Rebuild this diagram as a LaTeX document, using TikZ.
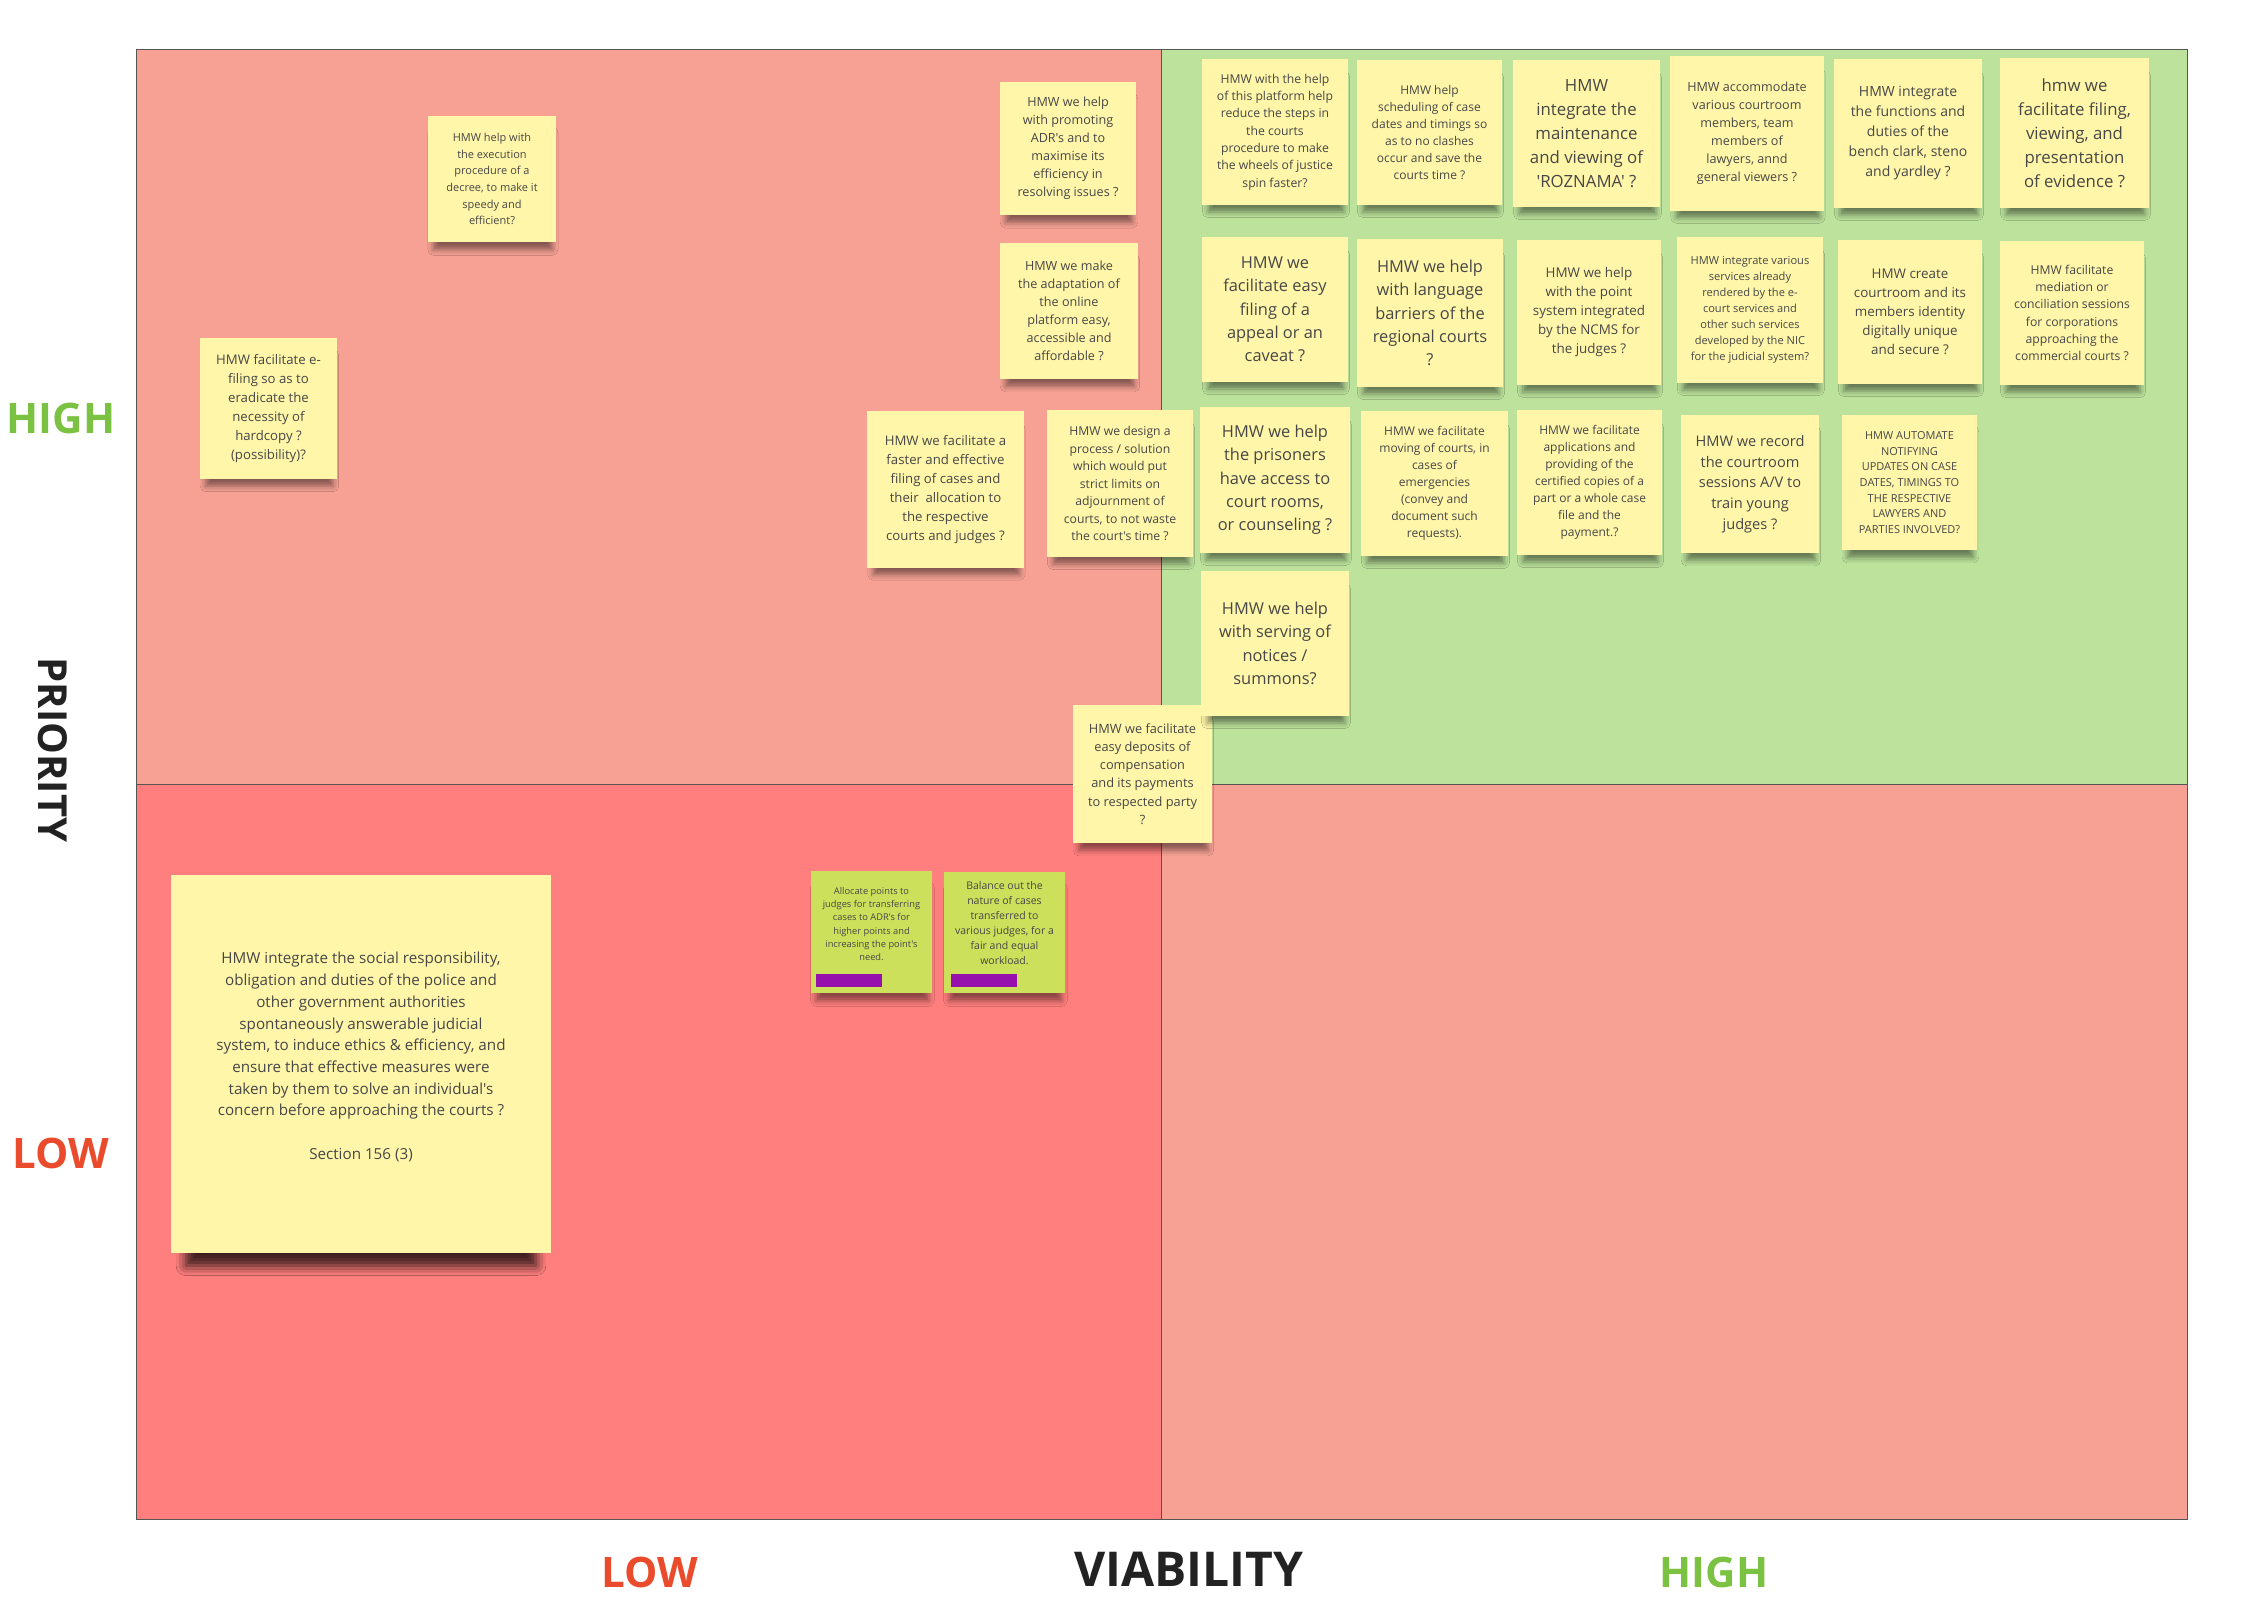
\documentclass[tikz,border=0pt]{standalone}
\usepackage{fontspec}
\setmainfont{Open Sans}[Ligatures=TeXOff]
\usetikzlibrary{shadows.blur}
\definecolor{qsalmon}{HTML}{F6A194}
\definecolor{qgreen}{HTML}{BCE29B}
\definecolor{qred}{HTML}{FF7F7E}
\definecolor{noteyellow}{HTML}{FFF6A9}
\definecolor{notegreen}{HTML}{CCE05B}
\definecolor{barpurple}{HTML}{9510AC}
\definecolor{notetext}{HTML}{474747}
\definecolor{lblgreen}{HTML}{7CC242}
\definecolor{lblred}{HTML}{EA4B2C}
\definecolor{lbldark}{HTML}{222222}
\definecolor{gridline}{HTML}{555555}
\newcommand{\fs}[2]{\fontsize{#1}{#2}\selectfont}
\tikzset{
  note/.style={rectangle, fill=noteyellow, text=notetext, align=center, inner sep=0pt,
    blur shadow={shadow xshift=1pt, shadow yshift=-13pt, shadow scale=0.93, shadow opacity=45, shadow blur radius=6pt}},
  gnote/.style={note, fill=notegreen},
  ntext/.style={align=center, text=notetext, inner sep=0pt},
  purplebar/.style={rectangle, fill=barpurple, inner sep=0pt, minimum width=66pt, minimum height=13pt},
  axislbl/.style={inner sep=0pt, font=\bfseries\fs{42}{50}},
  gridstroke/.style={draw=gridline, line width=1pt},
}
\begin{document}
\begin{tikzpicture}[x=1pt, y=-1pt]
\useasboundingbox (0,0) rectangle (2268,1614);
\fill[white] (0,0) rectangle (2268,1614);
% quadrants
\fill[qsalmon] (136,49) rectangle (1161,784);
\fill[qgreen] (1161,49) rectangle (2187,784);
\fill[qred] (136,784) rectangle (1161,1519);
\fill[qsalmon] (1161,784) rectangle (2187,1519);
\draw[gridstroke] (136,49) rectangle (2187,1519);
\draw[gridstroke] (1161,49) -- (1161,1519);
\draw[gridstroke] (136,784) -- (2187,784);
% axis labels
\node[axislbl, text=lblgreen] (highy) at (61,418) {HIGH};
\node[axislbl, text=lblred] (lowy) at (61,1153) {LOW};
\node[axislbl, text=lbldark, font=\bfseries\fs{40}{48}, rotate=-90] (prio) at (53,750) {PRIORITY};
\node[axislbl, text=lblred] (lowx) at (650,1572) {LOW};
\node[axislbl, text=lbldark, font=\bfseries\fs{48}{56}] (viab) at (1189,1569) {VIABILITY};
\node[axislbl, text=lblgreen] (highx) at (1714,1572) {HIGH};
% left / middle notes
\node[note, minimum width=128pt, minimum height=126pt, font=\fs{11}{16.7}] (n1) at (492,179)
  {HMW help with\\the execution\\procedure of a\\decree, to make it\\speedy and\\efficient?};
\node[note, minimum width=137pt, minimum height=141pt, font=\fs{13.2}{19}] (n2) at (268.5,408.5)
  {HMW facilitate e-\\filing so as to\\eradicate the\\necessity of\\hardcopy ?\\(possibility)?};
\node[note, minimum width=136pt, minimum height=133pt, font=\fs{12.6}{18}] (n3) at (1068,148.5)
  {HMW we help\\with promoting\\ADR's and to\\maximise its\\efficiency in\\resolving issues ?};
\node[note, minimum width=138pt, minimum height=136pt, font=\fs{12.6}{18}] (n4) at (1069,311)
  {HMW we make\\the adaptation of\\the online\\platform easy,\\accessible and\\affordable ?};
\node[note, minimum width=157pt, minimum height=157pt, font=\fs{13.2}{19}] (n5) at (945.5,489.5)
  {HMW we facilitate a\\faster and effective\\filing of cases and\\their\ \ allocation to\\the respective\\courts and judges ?};
\node[note, minimum width=146pt, minimum height=147pt, font=\fs{12.2}{17.5}] (n6) at (1120,483.5)
  {HMW we design a\\process / solution\\which would put\\strict limits on\\adjournment of\\courts, to not waste\\the court's time ?};
\node[note, minimum width=139pt, minimum height=138pt, font=\fs{12.8}{18.3}] (n7) at (1142.5,774)
  {HMW we facilitate\\easy deposits of\\compensation\\and its payments\\to respected party\\?};
% green notes
\node[gnote, minimum width=121pt, minimum height=122pt] (ga) at (871.5,932) {};
\node[ntext, font=\fs{9.3}{13.3}] (ga-text) at (871.5,924)
  {Allocate points to\\judges for transferring\\cases to ADR's for\\higher points and\\increasing the point's\\need.};
\node[purplebar] (ga-bar) at (849,980.5) {};
\node[gnote, minimum width=121pt, minimum height=121pt] (gb) at (1004.5,932.5) {};
\node[ntext, font=\fs{10.5}{15}] (gb-text) at (1004.5,923)
  {Balance out the\\nature of cases\\transferred to\\various judges, for a\\fair and equal\\workload.};
\node[purplebar] (gb-bar) at (984,980.5) {};
% green quadrant, row 1
\node[note, minimum width=146pt, minimum height=146pt, font=\fs{12.2}{17.3}] (n9) at (1275,132)
  {HMW with the help\\of this platform help\\reduce the steps in\\the courts\\procedure to make\\the wheels of justice\\spin faster?};
\node[note, minimum width=145pt, minimum height=145pt, font=\fs{12}{17}] (n10) at (1429.5,132.5)
  {HMW help\\scheduling of case\\dates and timings so\\as to no clashes\\occur and save the\\courts time ?};
\node[note, minimum width=147pt, minimum height=147pt, font=\fs{16.8}{24}] (n11) at (1586.5,133.5)
  {HMW\\integrate the\\maintenance\\and viewing of\\'ROZNAMA' ?};
\node[note, minimum width=154pt, minimum height=155pt, font=\fs{12.6}{18}] (n12) at (1747,133.5)
  {HMW accommodate\\various courtroom\\members, team\\members of\\lawyers, annd\\general viewers ?};
\node[note, minimum width=148pt, minimum height=149pt, font=\fs{14}{20}] (n13) at (1908,133.5)
  {HMW integrate\\the functions and\\duties of the\\bench clark, steno\\and yardley ?};
\node[note, minimum width=149pt, minimum height=150pt, font=\fs{16.8}{24}] (n14) at (2074.5,133)
  {hmw we\\facilitate filing,\\viewing, and\\presentation\\of evidence ?};
% row 2
\node[note, minimum width=146pt, minimum height=145pt, font=\fs{16.4}{23.3}] (n15) at (1275,309.5)
  {HMW we\\facilitate easy\\filing of a\\appeal or an\\caveat ?};
\node[note, minimum width=146pt, minimum height=148pt, font=\fs{16.4}{23.3}] (n16) at (1430,313)
  {HMW we help\\with language\\barriers of the\\regional courts\\?};
\node[note, minimum width=144pt, minimum height=145pt, font=\fs{13.4}{19}] (n17) at (1589,312.5)
  {HMW we help\\with the point\\system integrated\\by the NCMS for\\the judges ?};
\node[note, minimum width=146pt, minimum height=146pt, font=\fs{11.1}{16}] (n18) at (1750,310)
  {HMW integrate various\\services already\\rendered by the e-\\court services and\\other such services\\developed by the NIC\\for the judicial system?};
\node[note, minimum width=144pt, minimum height=144pt, font=\fs{13.4}{19}] (n19) at (1910,312)
  {HMW create\\courtroom and its\\members identity\\digitally unique\\and secure ?};
\node[note, minimum width=144pt, minimum height=144pt, font=\fs{12.2}{17.3}] (n20) at (2072,313)
  {HMW facilitate\\mediation or\\conciliation sessions\\for corporations\\approaching the\\commercial courts ?};
% row 3
\node[note, minimum width=150pt, minimum height=146pt, font=\fs{16.4}{23.3}] (n21) at (1275,480)
  {HMW we help\\the prisoners\\have access to\\court rooms,\\or counseling ?};
\node[note, minimum width=147pt, minimum height=145pt, font=\fs{12}{17}] (n22) at (1434.5,483.5)
  {HMW we facilitate\\moving of courts, in\\cases of\\emergencies\\(convey and\\document such\\requests).};
\node[note, minimum width=145pt, minimum height=145pt, font=\fs{12}{17}] (n23) at (1589.5,482.5)
  {HMW we facilitate\\applications and\\providing of the\\certified copies of a\\part or a whole case\\file and the\\payment.?};
\node[note, minimum width=138pt, minimum height=138pt, font=\fs{14.6}{20.7}] (n24) at (1750,484)
  {HMW we record\\the courtroom\\sessions A/V to\\train young\\judges ?};
\node[note, minimum width=135pt, minimum height=135pt, font=\fs{11}{15.7}] (n25) at (1909.5,482.5)
  {HMW AUTOMATE\\NOTIFYING\\UPDATES ON CASE\\DATES, TIMINGS TO\\THE RESPECTIVE\\LAWYERS AND\\PARTIES INVOLVED?};
% row 4
\node[note, minimum width=148pt, minimum height=145pt, font=\fs{16.4}{23.3}] (n26) at (1275,643.5)
  {HMW we help\\with serving of\\notices /\\summons?};
% big note
\node[note, minimum width=380pt, minimum height=378pt,
  blur shadow={shadow xshift=0pt, shadow yshift=-30pt, shadow scale=0.92, shadow opacity=50, shadow blur radius=11pt}] (n27) at (361,1064) {};
\node[ntext, font=\fs{15.2}{21.7}] (n27-text) at (361,1057)
  {HMW integrate the social responsibility,\\obligation and duties of the police and\\other government authorities\\spontaneously answerable judicial\\system, to induce ethics \& efficiency, and\\ensure that effective measures were\\taken by them to solve an individual's\\concern before approaching the courts ?\\[21.7pt]Section 156 (3)};
\end{tikzpicture}
\end{document}
